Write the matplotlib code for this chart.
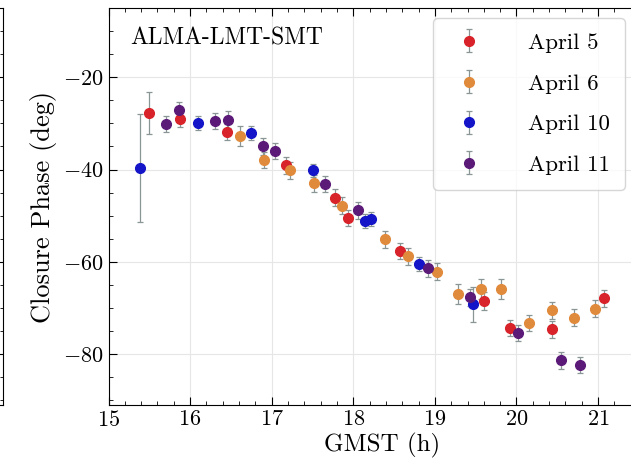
import numpy as np
import matplotlib
matplotlib.use("Agg")
import matplotlib.pyplot as plt
from matplotlib.ticker import MultipleLocator

plt.rcParams['font.family'] = 'serif'
plt.rcParams['font.serif'] = ['cmr10']
plt.rcParams['mathtext.fontset'] = 'cm'
plt.rcParams['axes.formatter.use_mathtext'] = True

# data: GMST (h), closure phase (deg), error (deg)
t_apr5 = [15.50, 15.88, 16.45, 17.18, 17.77, 17.93, 18.57, 19.60, 19.92, 20.43, 21.07]
cp_apr5 = [-27.8, -29.0, -31.9, -39.1, -46.1, -50.5, -57.6, -68.5, -74.3, -74.6, -67.9]
err_apr5 = [4.5, 1.8, 1.8, 1.8, 1.8, 1.8, 1.8, 2.0, 1.8, 1.8, 1.8]

t_apr6 = [16.61, 16.91, 17.22, 17.52, 17.86, 18.39, 18.67, 19.02, 19.28, 19.56, 19.81, 20.15, 20.43, 20.70, 20.96]
cp_apr6 = [-32.8, -37.9, -40.2, -43.0, -47.8, -55.1, -58.8, -62.1, -67.0, -65.9, -65.9, -73.2, -70.5, -72.1, -70.1]
err_apr6 = [2.2, 1.8, 1.8, 1.8, 1.8, 1.8, 1.8, 1.8, 2.2, 2.2, 2.2, 1.8, 1.8, 1.8, 1.8]

t_apr10 = [15.39, 16.10, 16.75, 17.51, 18.14, 18.22, 18.81, 19.47]
cp_apr10 = [-39.6, -29.9, -32.0, -40.2, -51.1, -50.7, -60.5, -69.2]
err_apr10 = [11.7, 1.5, 1.5, 1.5, 1.5, 1.5, 1.5, 3.8]

t_apr11 = [15.71, 15.86, 16.31, 16.47, 16.89, 17.04, 17.65, 18.06, 18.92, 19.43, 20.02, 20.54, 20.78]
cp_apr11 = [-30.1, -27.2, -29.5, -29.2, -35.0, -36.0, -43.1, -48.8, -61.4, -67.7, -75.4, -81.3, -82.3]
err_apr11 = [1.8, 1.8, 1.8, 1.8, 1.8, 1.8, 1.8, 1.8, 1.8, 1.8, 1.8, 1.8, 1.8]

fig = plt.figure(figsize=(6.31, 4.74), dpi=100)
W, H = 631, 474
x0, x1 = 15.0, 21.7
pxh = 81.6
left = 108.5
right = left + (x1 - x0) * pxh
top, bottom = 8, 405
ax = fig.add_axes([left / W, (H - bottom) / H, (right - left) / W, (bottom - top) / H])

# edge of the neighbouring panel on the far left
ax0 = fig.add_axes([-0.5, (H - bottom) / H, 0.5 + 2.5 / W, (bottom - top) / H])
ax0.set_xticks([])
ax0.yaxis.set_major_locator(MultipleLocator(20))
ax0.yaxis.set_minor_locator(MultipleLocator(5))
ax0.set_ylim(-91, -5)
ax0.tick_params(which='both', direction='in', right=True, labelleft=False, left=False)

series = [
    (t_apr5, cp_apr5, err_apr5, '#d8232a', 'April 5'),
    (t_apr6, cp_apr6, err_apr6, '#e08a3c', 'April 6'),
    (t_apr10, cp_apr10, err_apr10, '#1414c8', 'April 10'),
    (t_apr11, cp_apr11, err_apr11, '#5b1a78', 'April 11'),
]
for t, cp, e, c, lab in series:
    ax.errorbar(t, cp, yerr=e, fmt='o', color=c, ms=7, ecolor='#8a9696',
                elinewidth=0.9, capsize=2, capthick=0.9, label=lab, zorder=3)

ax.set_xlim(x0, x1)
ax.set_ylim(-91, -5)
ax.xaxis.set_major_locator(MultipleLocator(1))
ax.xaxis.set_minor_locator(MultipleLocator(0.2))
ax.yaxis.set_major_locator(MultipleLocator(20))
ax.yaxis.set_minor_locator(MultipleLocator(5))
ax.tick_params(which='both', direction='in', top=True, right=True, labelsize=16)
ax.tick_params(which='major', length=6)
ax.tick_params(which='minor', length=3)
ax.grid(True, color='#e6e6e6', lw=0.8, zorder=0)

ax.set_xlabel('GMST (h)', fontsize=18, labelpad=2)
ax.set_ylabel('Closure Phase (deg)', fontsize=19, labelpad=4)
ax.text(0.04, 0.95, 'ALMA-LMT-SMT', transform=ax.transAxes, fontsize=17,
        ha='left', va='top')

leg = ax.legend(loc='upper left', bbox_to_anchor=((433 - left) / (right - left), 1 - 10 / (bottom - top)),
                borderaxespad=0, fontsize=16.5, frameon=True, edgecolor='#cccccc',
                handletextpad=1.7, handlelength=1.8, borderpad=0.65, labelspacing=0.9)

fig.savefig('out.png', dpi=100)
